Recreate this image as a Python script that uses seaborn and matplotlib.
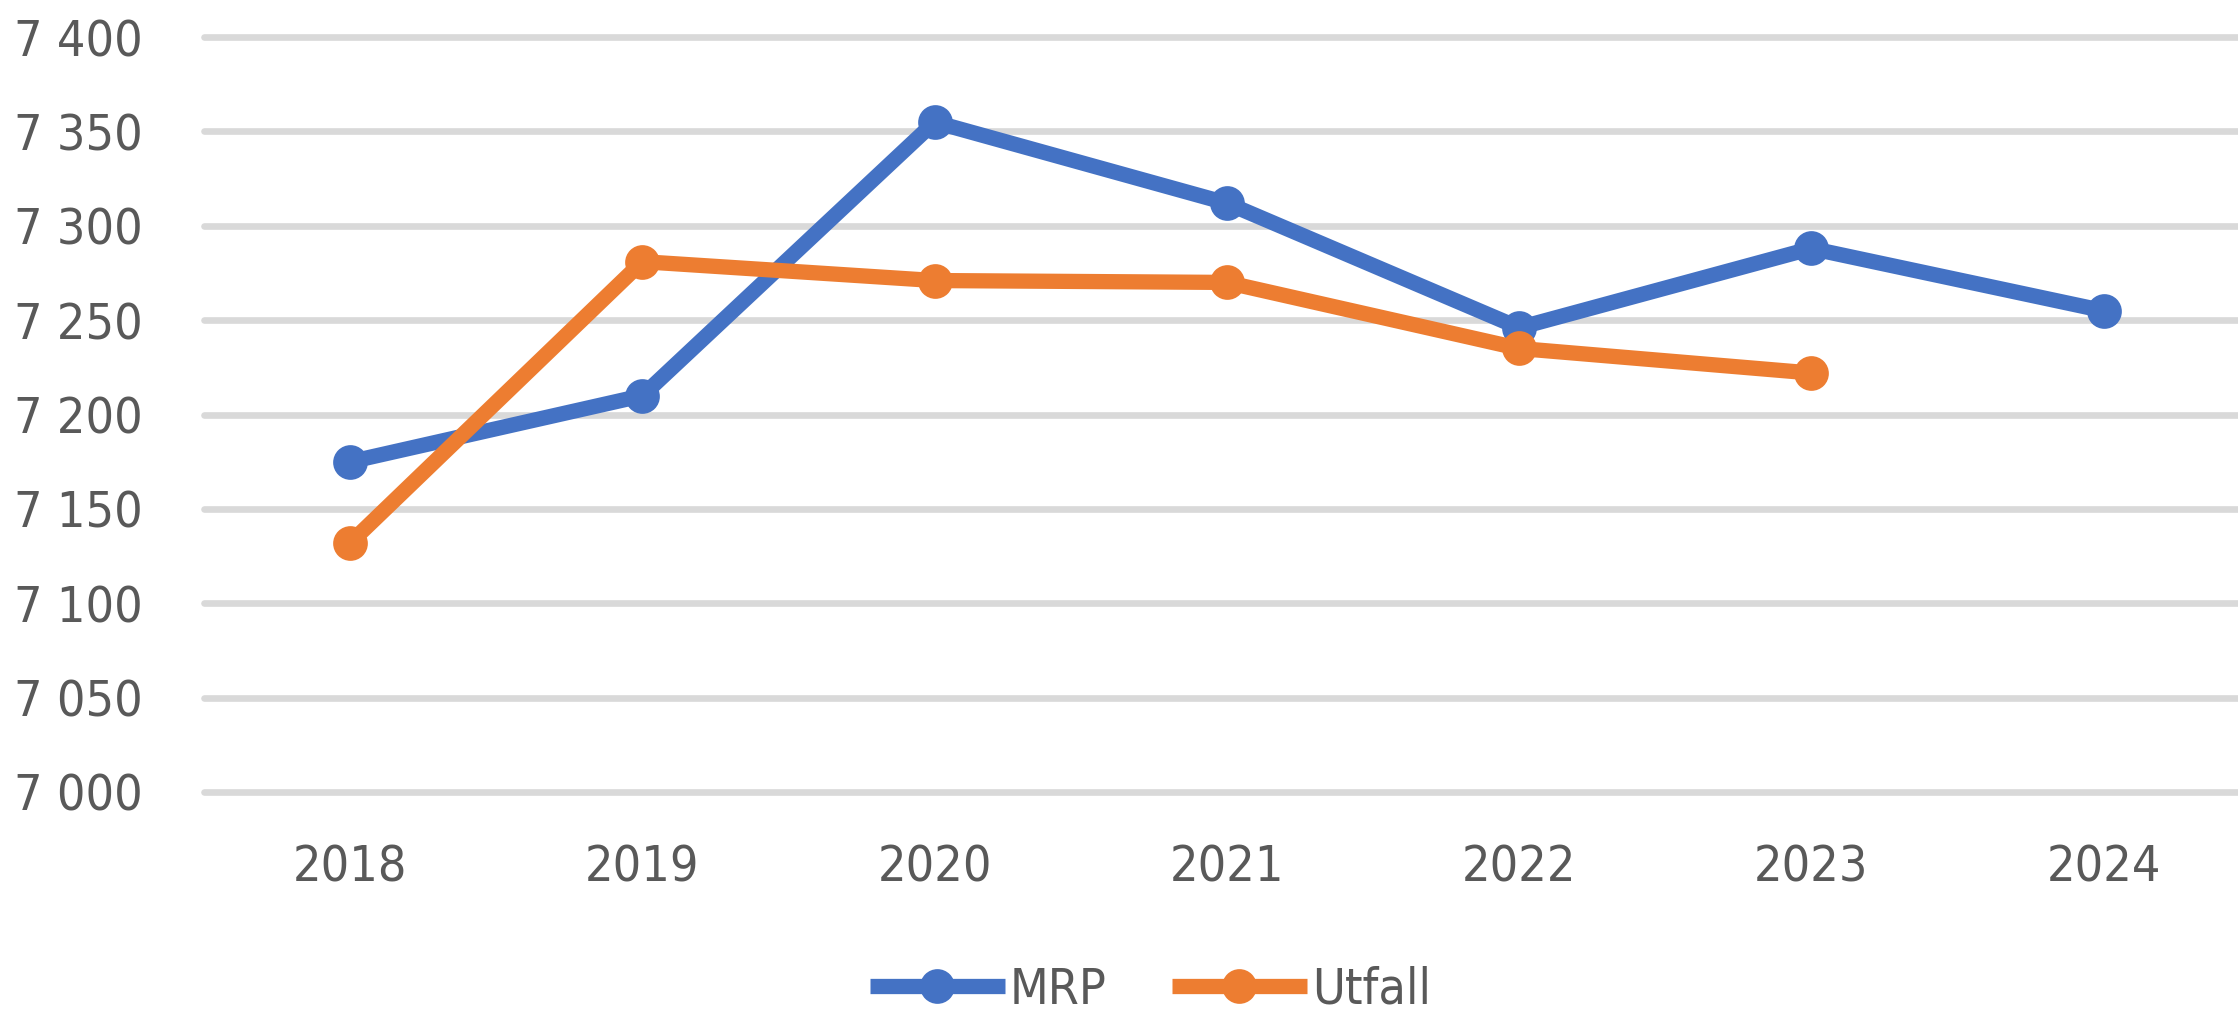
import pandas as pd
import matplotlib
matplotlib.use("Agg")
import matplotlib.pyplot as plt
import seaborn as sns

years = ["2018", "2019", "2020", "2021", "2022", "2023", "2024"]
mrp = [7175, 7210, 7355, 7312, 7246, 7288, 7255]
utfall = [7132, 7281, 7271, 7270, 7235, 7222]
series = ["MRP", "Utfall"]
colors = ["#4472C4", "#ED7D31"]
yticks = [7000, 7050, 7100, 7150, 7200, 7250, 7300, 7350, 7400]

df = pd.concat([
    pd.DataFrame({"År": years, "Verdi": mrp, "Serie": "MRP"}),
    pd.DataFrame({"År": years[:len(utfall)], "Verdi": utfall, "Serie": "Utfall"}),
])

sns.set_style("white")
plt.rcParams["font.family"] = ["Liberation Sans Narrow", "DejaVu Sans"]
plt.rcParams["font.stretch"] = "condensed"
txt_color = "#595959"
fs = 36

fig = plt.figure(figsize=(22.38, 10.16), dpi=100)
ax = fig.add_axes([0.0912, 0.2205, 0.914, 0.743])
sns.lineplot(data=df, x="År", y="Verdi", hue="Serie", hue_order=series,
             palette=colors, marker="o", markersize=25, markeredgewidth=0,
             linewidth=11, solid_capstyle="butt", legend=False, ax=ax, sort=False)

ax.set_xlim(-0.5, 6.5)
ax.set_ylim(7000, 7400)
ax.set_yticks(yticks)
ax.set_yticklabels([f"{v:,}".replace(",", " ") for v in yticks])
ax.grid(axis="y", color="#D9D9D9", linewidth=4.8)
for gl in ax.get_ygridlines():
    gl.set_clip_on(False)
ax.set_axisbelow(True)
for s in ax.spines.values():
    s.set_visible(False)
ax.tick_params(axis="both", length=0, labelsize=fs, labelcolor=txt_color)
ax.tick_params(axis="y", pad=44)
ax.tick_params(axis="x", pad=37)
ax.set_xlabel("")
ax.set_ylabel("")

fig.legend(ax.lines[:2], series, loc="center", bbox_to_anchor=(0.514, 0.026),
           ncol=2, frameon=False, fontsize=fs, labelcolor=txt_color,
           handlelength=2.7, handletextpad=0.1, columnspacing=1.3, numpoints=1)

plt.savefig("out.png", dpi=100)
